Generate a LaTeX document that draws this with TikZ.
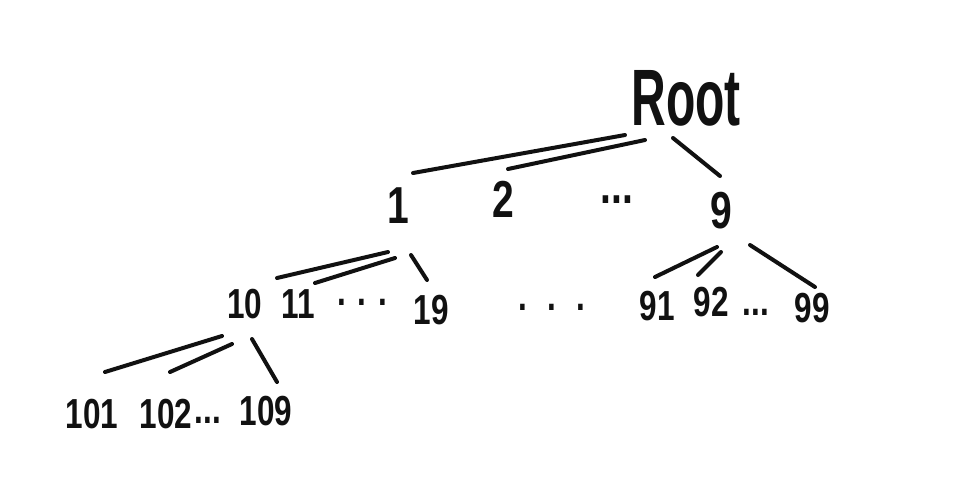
\documentclass[tikz,border=0pt]{standalone}
\usepackage{fontspec}
\setmainfont{Liberation Sans}
\usepackage{tikz}
\usetikzlibrary{calc}
\definecolor{ink}{HTML}{111111}
\tikzset{
  rootlbl/.style={anchor=base,inner sep=0pt,text=ink,xscale=0.6,font=\fontsize{40}{40}\selectfont\bfseries},
  toplbl/.style={anchor=base,inner sep=0pt,text=ink,xscale=0.75,font=\fontsize{26}{26}\selectfont\bfseries},
  lbl/.style={anchor=base,inner sep=0pt,text=ink,xscale=0.75,font=\fontsize{21}{21}\selectfont\bfseries},
  edge/.style={draw=ink,line width=2pt,line cap=round},
}

\begin{document}
\begin{tikzpicture}[x=0.5pt,y=-0.5pt]
  \path[fill=white,use as bounding box] (0,0) rectangle (969,479);
  % tree labels
  \node[rootlbl] (root) at (686,125) {Root};
  \foreach \n/\x/\y in {1/398/223, 2/503/217, 9/721/228} {\node[toplbl] (n\n) at (\x,\y) {\n};}
  \node[toplbl] (d1) at (617,203) {...};
  \foreach \n/\x/\y in {10/245/318, 11/298/318, 19/431/324, 91/657/320, 92/711/316, 99/812/322, 101/92/428, 102/166/428, 109/266/425} {\node[lbl] (n\n) at (\x,\y) {\n};}
  \node[lbl] (d2) at (362,305) {. . .};
  \node[lbl] (d3) at (552,310) {.\hspace{0.65em}.\hspace{0.65em}.};
  \node[lbl] (d4) at (756,315) {...};
  \node[lbl] (d5) at (208,423) {...};
  % branches, offsets from each label's base point
  \foreach \a/\b/\sx/\sy/\ex/\ey in {root/n1/-61/10/15/-50, root/n2/-41/15/5/-48, root/n9/-13/13/-1/-52,
      n1/n10/-10/29/32/-40, n1/n11/-3/35/17/-35, n1/n19/13/32/-4/-44,
      n9/n91/-4/19/-2/-43, n9/n92/0/24/-13/-41, n9/n99/29/17/3/-35,
      n10/n101/-23/18/13/-56, n10/n102/-13/26/4/-56, n10/n109/7/21/11/-43}
    {\draw[edge] ($(\a.base)+(\sx,\sy)$) -- ($(\b.base)+(\ex,\ey)$);}
\end{tikzpicture}
\end{document}
